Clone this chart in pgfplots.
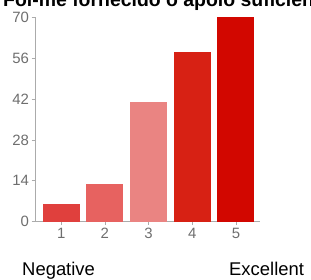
\documentclass[border=0pt]{standalone}
\usepackage{pgfplots}
\pgfplotsset{compat=1.18}
\usepackage{fontspec}
\setmainfont{Liberation Sans}
\definecolor{cA}{HTML}{E0403D}
\definecolor{cB}{HTML}{E76260}
\definecolor{cC}{HTML}{EA8482}
\definecolor{cD}{HTML}{D72114}
\definecolor{cE}{HTML}{D20700}
\definecolor{axgray}{HTML}{ABABAB}
\definecolor{txtgray}{HTML}{6E6E6E}
\begin{document}
\begin{tikzpicture}
\useasboundingbox (0,0) rectangle (311bp,280bp);
\clip (0,0) rectangle (311bp,280bp);
\begin{axis}[
  at={(35bp,58.3bp)}, anchor=origin,
  scale only axis, width=225bp, height=204.4bp,
  ymin=0, ymax=70, xmin=0.4, xmax=5.55,
  ybar, bar width=37bp, bar shift=0pt,
  axis x line=bottom, axis y line=left,
  axis line style={draw=axgray, line width=0.8bp, -},
  xtick={1,2,3,4,5},
  ytick={0,14,28,42,56,70},
  tick align=outside,
  major tick length=3.5bp,
  tick style={draw=axgray, line width=0.8bp},
  /pgf/number format/assume math mode=true,
  tick label style={font=\fontsize{15}{15}\selectfont, text=txtgray},
  yticklabel style={xshift=1bp},
  xticklabel style={yshift=1bp},
  clip=false,
]
\addplot[fill=cA, draw=none] coordinates {(1,6)};
\addplot[fill=cB, draw=none] coordinates {(2,13)};
\addplot[fill=cC, draw=none] coordinates {(3,41)};
\addplot[fill=cD, draw=none] coordinates {(4,58)};
\addplot[fill=cE, draw=none] coordinates {(5,70)};
\end{axis}
\node[anchor=base west, inner sep=0, font=\fontsize{19.5}{19.5}\selectfont\bfseries] at (3bp,273bp) {Foi-me fornecido o apoio suficiente};
\node[anchor=base west, inner sep=0, font=\fontsize{18.5}{18.5}\selectfont] at (22bp,5bp) {Negative};
\node[anchor=base west, inner sep=0, font=\fontsize{18.5}{18.5}\selectfont] at (229bp,5bp) {Excellent};
\end{tikzpicture}
\end{document}
